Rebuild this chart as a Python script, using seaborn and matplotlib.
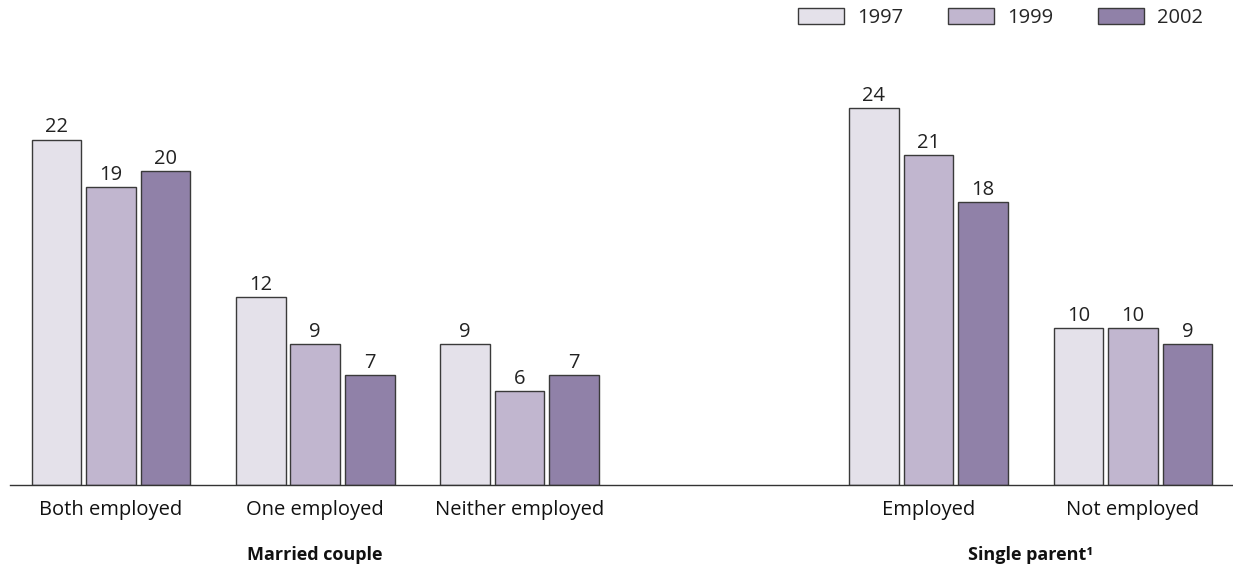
import matplotlib
matplotlib.use("Agg")
import matplotlib.pyplot as plt
import pandas as pd
import seaborn as sns

# categories, with an empty slot separating the two family types
categories = ["Both employed", "One employed", "Neither employed", "", "Employed", "Not employed"]
years = ["1997", "1999", "2002"]
values_1997 = [22, 12, 9, 24, 10]
values_1999 = [19, 9, 6, 21, 10]
values_2002 = [20, 7, 7, 18, 9]
group_labels = ["Married couple", "Single parent\u00b9"]

colours = {"1997": "#E4DFEC", "1999": "#C0B2D3", "2002": "#8F7AAE"}


def build_frame():
    real_cats = [c for c in categories if c]
    rows = []
    for year, vals in zip(years, [values_1997, values_1999, values_2002]):
        for cat, v in zip(real_cats, vals):
            rows.append({"Category": cat, "Year": year, "Value": v})
    return pd.DataFrame(rows)


def main():
    df = build_frame()
    sns.set_theme(style="white")
    plt.rcParams["font.family"] = ["Open Sans", "DejaVu Sans"]

    fig = plt.figure(figsize=(12.33, 5.67), dpi=100)
    ax = fig.add_axes([0.008, 0.1446, 0.992, 0.72])

    sns.barplot(data=df, x="Category", y="Value", hue="Year", order=categories,
                hue_order=years, palette=colours, edgecolor="#3a3a3a", linewidth=1.0,
                width=0.8, gap=0.09, ax=ax)

    for cont in ax.containers:
        ax.bar_label(cont, padding=1.5, fontsize=14.5, color="#222222")

    ax.set_ylim(0, 26)
    ax.set_xlim(-0.494, 5.49)
    ax.set_yticks([])
    ax.set_xlabel("")
    ax.set_ylabel("")
    ax.tick_params(axis="x", length=0, labelsize=14.5, pad=11, colors="#111111")
    for side in ["left", "right", "top"]:
        ax.spines[side].set_visible(False)
    ax.spines["bottom"].set_color("#333333")
    ax.spines["bottom"].set_linewidth(1.0)

    # family type labels under the category labels
    ax.text(1, -4.45, group_labels[0], ha="center", va="center", fontsize=13,
            fontweight="bold", color="#111111")
    ax.text(4.5, -4.45, group_labels[1], ha="center", va="center", fontsize=13,
            fontweight="bold", color="#111111")

    handles, labels = ax.get_legend_handles_labels()
    ax.legend(handles, labels, ncol=3, frameon=False, loc="upper right",
              bbox_to_anchor=(1203 / 1233, 1 - 8 / 567), bbox_transform=fig.transFigure,
              borderpad=0, borderaxespad=0,
              fontsize=14.5, handlelength=2.3, handleheight=0.78,
              columnspacing=2.2, handletextpad=0.65)

    fig.savefig("out.png", dpi=100)


if __name__ == "__main__":
    main()
